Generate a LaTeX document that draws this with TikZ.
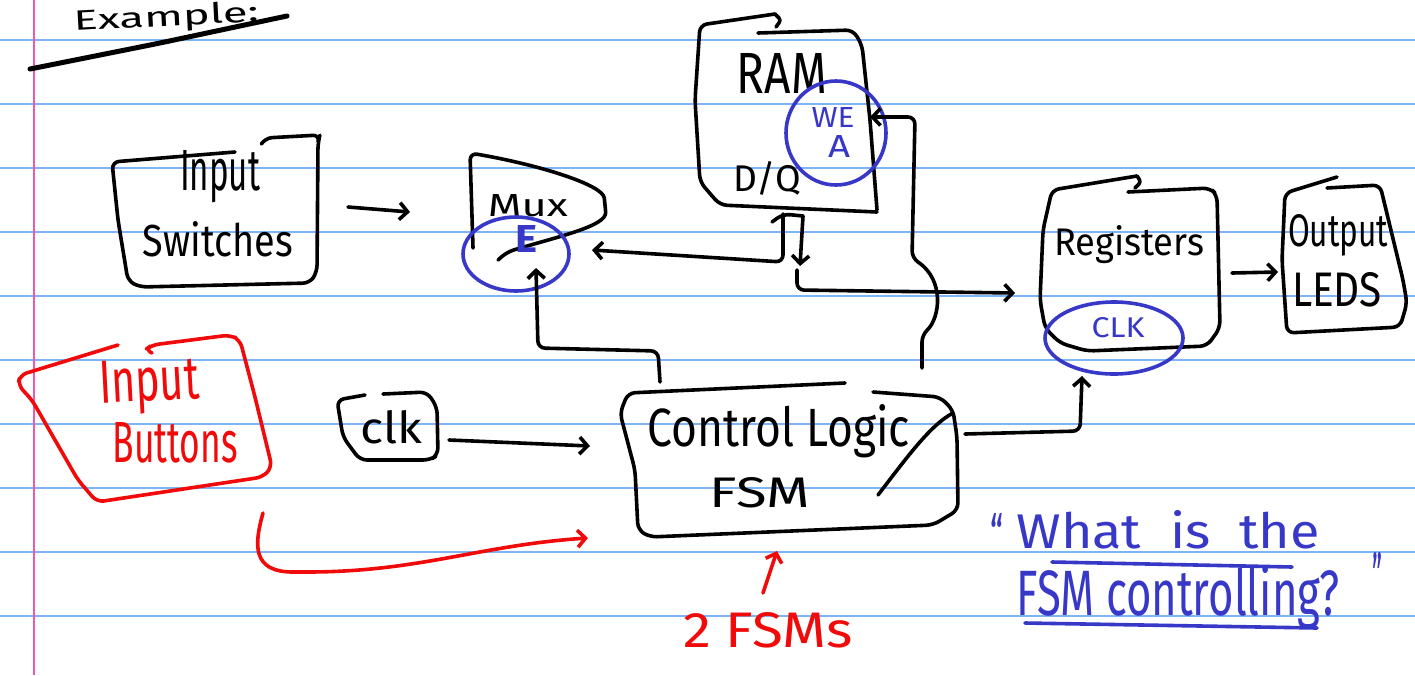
\documentclass[tikz,border=0pt]{standalone}
\usepackage{fontspec}
\setmainfont{Fira Sans}
\usepackage{graphicx}
\usetikzlibrary{arrows.meta}
\definecolor{ruleblue}{RGB}{125,180,245}
\definecolor{marginpink}{RGB}{240,90,170}
\definecolor{inkred}{RGB}{240,10,10}
\definecolor{inkblue}{RGB}{55,55,200}
% handwritten word: width, height (pt), text
\newcommand{\hw}[3]{\resizebox{#1pt}{#2pt}{#3}}

\begin{document}
\begin{tikzpicture}[x=1pt,y=-1pt,
  pen/.style={draw=black, line width=3.6pt, line cap=round, line join=round, rounded corners=7pt},
  redpen/.style={pen, draw=inkred},
  bluepen/.style={pen, draw=inkblue},
  tip/.style={-{Straight Barb[length=8pt,width=17pt]}},
  word/.style={inner sep=0pt, anchor=base},
  blackword/.style={word, text=black},
  redword/.style={word, text=inkred},
  blueword/.style={word, text=inkblue},
]
% page and ruled paper
\fill[white] (0,0) rectangle (1415,675);
\useasboundingbox (0,0) rectangle (1415,675);
\foreach \yy in {40,104,...,616}
  \draw[ruleblue, line width=1.3pt] (0,\yy) -- (1415,\yy);
\draw[marginpink, line width=1.6pt] (34,0) -- (34,675);

% heading
\node[blackword, anchor=base west, rotate=3] (ex) at (74,31) {\hw{185}{21}{Example:}};
\draw[pen, line width=5pt] (30,69) -- (160,43) -- (287,16);

% Input Switches
\draw[pen] (235,152) -- (112,162) -- (118,220) -- (128,281) -- (140,287) -- (310,283) -- (317,272) -- (318,142) -- (320,135) -- (265,138) -- (262,143);
\node[blackword] (isw1) at (220,190) {\hw{80}{40}{Input}};
\node[blackword] (isw2) at (218,256) {\hw{150}{35}{Switches}};

% Mux
\draw[pen] (498,260) -- (507,252) .. controls (560,236) and (607,226) .. (605,205)
  .. controls (603,185) and (540,165) .. (470,153) -- (473,248);
\node[blackword] (mux) at (528,216) {\hw{80}{22}{Mux}};
\draw[bluepen] (516,254) ellipse [x radius=53pt, y radius=37pt];
\node[blueword] (muxE) at (526,252) {\hw{22}{27}{\bfseries E}};

% RAM
\draw[pen] (775,14) -- (700,25) -- (695,100) -- (700,182) -- (720,205) -- (877,212);
\draw[pen, rounded corners=3pt] (775,14) -- (781,20) -- (776,27);
\draw[pen] (758,33) -- (853,30) -- (862,45) -- (870,120) -- (877,210);
\node[blackword] (ram) at (782,93) {\hw{90}{40}{RAM}};
\node[blackword] (dq) at (767,191) {\hw{68}{30}{D/Q}};
\draw[bluepen] (836,133) ellipse [x radius=50pt, y radius=52pt];
\node[blueword] (we) at (833,127) {\hw{43}{20}{WE}};
\node[blueword] (wa) at (839,157) {\hw{22}{22}{A}};

% Registers
\draw[pen] (1137,176) -- (1052,190) -- (1043,230) -- (1040,300) -- (1045,328) -- (1060,343) -- (1087,351) -- (1207,346) -- (1220,328) -- (1217,195) -- (1210,188) -- (1128,192);
\draw[pen, rounded corners=3pt] (1137,176) -- (1141,182) -- (1135,188);
\node[blackword] (reg) at (1129,255) {\hw{150}{30}{Registers}};
\draw[bluepen] (1114,338) ellipse [x radius=69pt, y radius=36pt];
\node[blueword] (clkR) at (1118,337) {\hw{53}{20}{CLK}};

% Output LEDs
\draw[pen] (1337,177) -- (1285,193) -- (1282,260) -- (1287,333) -- (1400,327) -- (1407,303) -- (1403,280) -- (1380,185) -- (1327,188);
\node[blackword] (out) at (1338,246) {\hw{100}{32}{Output}};
\node[blackword] (leds) at (1337,306) {\hw{90}{34}{LEDS}};

% Control Logic FSM
\draw[pen] (845,383) -- (628,393) -- (620,413) -- (635,470) -- (638,530) -- (650,537) -- (933,525) -- (958,510) -- (957,437) -- (953,410) -- (940,397) -- (873,392);
\draw[pen] (878,495) .. controls (905,460) and (930,425) .. (953,413);
\node[blackword] (ctl1) at (779,446) {\hw{262}{42}{Control Logic}};
\node[blackword] (ctl2) at (760,507) {\hw{100}{30}{FSM}};

% clk
\draw[pen] (365,395) -- (337,400) -- (343,437) -- (360,460) -- (430,460) -- (438,455) -- (437,407) -- (427,392) -- (383,394);
\node[blackword] (clk) at (391,443) {\hw{62}{33}{clk}};

% Input Buttons
\draw[redpen] (118,345) -- (20,375) -- (18,385) -- (32,400) -- (78,480) -- (97,502) -- (263,477) -- (272,467) -- (255,397) -- (240,340) -- (230,335) -- (152,345) -- (145,350) -- (152,353);
\node[redword, rotate=3] (btn1) at (150,401) {\hw{100}{42}{Input}};
\node[redword] (btn2) at (175,462) {\hw{125}{40}{Buttons}};

% ports
\coordinate (iswOut) at (348,207);
\coordinate (muxIn) at (410,212);
\coordinate (muxData) at (592,250);
\coordinate (muxSel) at (536,268);
\coordinate (ctlTopL) at (660,382);
\coordinate (dqL) at (783,214);
\coordinate (dqR) at (803,216);
\coordinate (dqTee) at (797,270);
\coordinate (regIn) at (1015,293);
\coordinate (weIn) at (870,117);
\coordinate (ctlTopR) at (922,368);
\coordinate (ctlOut) at (965,434);
\coordinate (clkIn) at (1082,376);
\coordinate (regOut) at (1232,273);
\coordinate (ledIn) at (1278,272);
\coordinate (clkOut) at (449,440);
\coordinate (ctlIn) at (590,446);
\coordinate (btnOut) at (263,513);
\coordinate (ctlRed) at (588,538);
\coordinate (noteS) at (763,593);
\coordinate (noteT) at (777,551);

% connectors
\draw[pen, tip] (iswOut) -- (muxIn);
\draw[pen] (772,222) -- (dqL) -- (dqR);
\draw[pen, tip] (dqL) -- (783,262) -- (muxData);
\draw[pen, tip] (dqR) -- (800,266);
\draw[pen, tip] (dqTee) -- (797,290) -- (regIn);
\draw[pen, tip] (ctlTopL) -- (658,351) -- (538,348) -- (muxSel);
\draw[pen, tip] (ctlTopR) -- (922,335) .. controls (940,318) and (945,280) .. (912,258) -- (915,117) -- (weIn);
\draw[pen, tip] (ctlOut) -- (1080,431) -- (clkIn);
\draw[pen, tip] (regOut) -- (ledIn);
\draw[pen, tip] (clkOut) -- (ctlIn);
\draw[redpen, tip] (btnOut) .. controls (254,545) and (252,572) .. (300,572)
  .. controls (420,572) and (480,545) .. (ctlRed);
\draw[redpen, tip] (noteS) -- (noteT);
\node[redword] (fsms) at (768,647) {\hw{170}{35}{2 FSMs}};

% question
\node[blueword] (q0) at (997,553) {\hw{13}{40}{``}};
\node[blueword] (q1) at (1168,548) {\hw{303}{38}{What\ \ is\ \ the}};
\draw[bluepen] (1052,562) -- (1292,567);
\node[blueword] (q2) at (1178,615) {\hw{323}{50}{FSM controlling?}};
\draw[bluepen] (1025,623) -- (1317,628);
\node[blueword] (q3) at (1377,598) {\hw{10}{46}{''}};
\end{tikzpicture}
\end{document}
